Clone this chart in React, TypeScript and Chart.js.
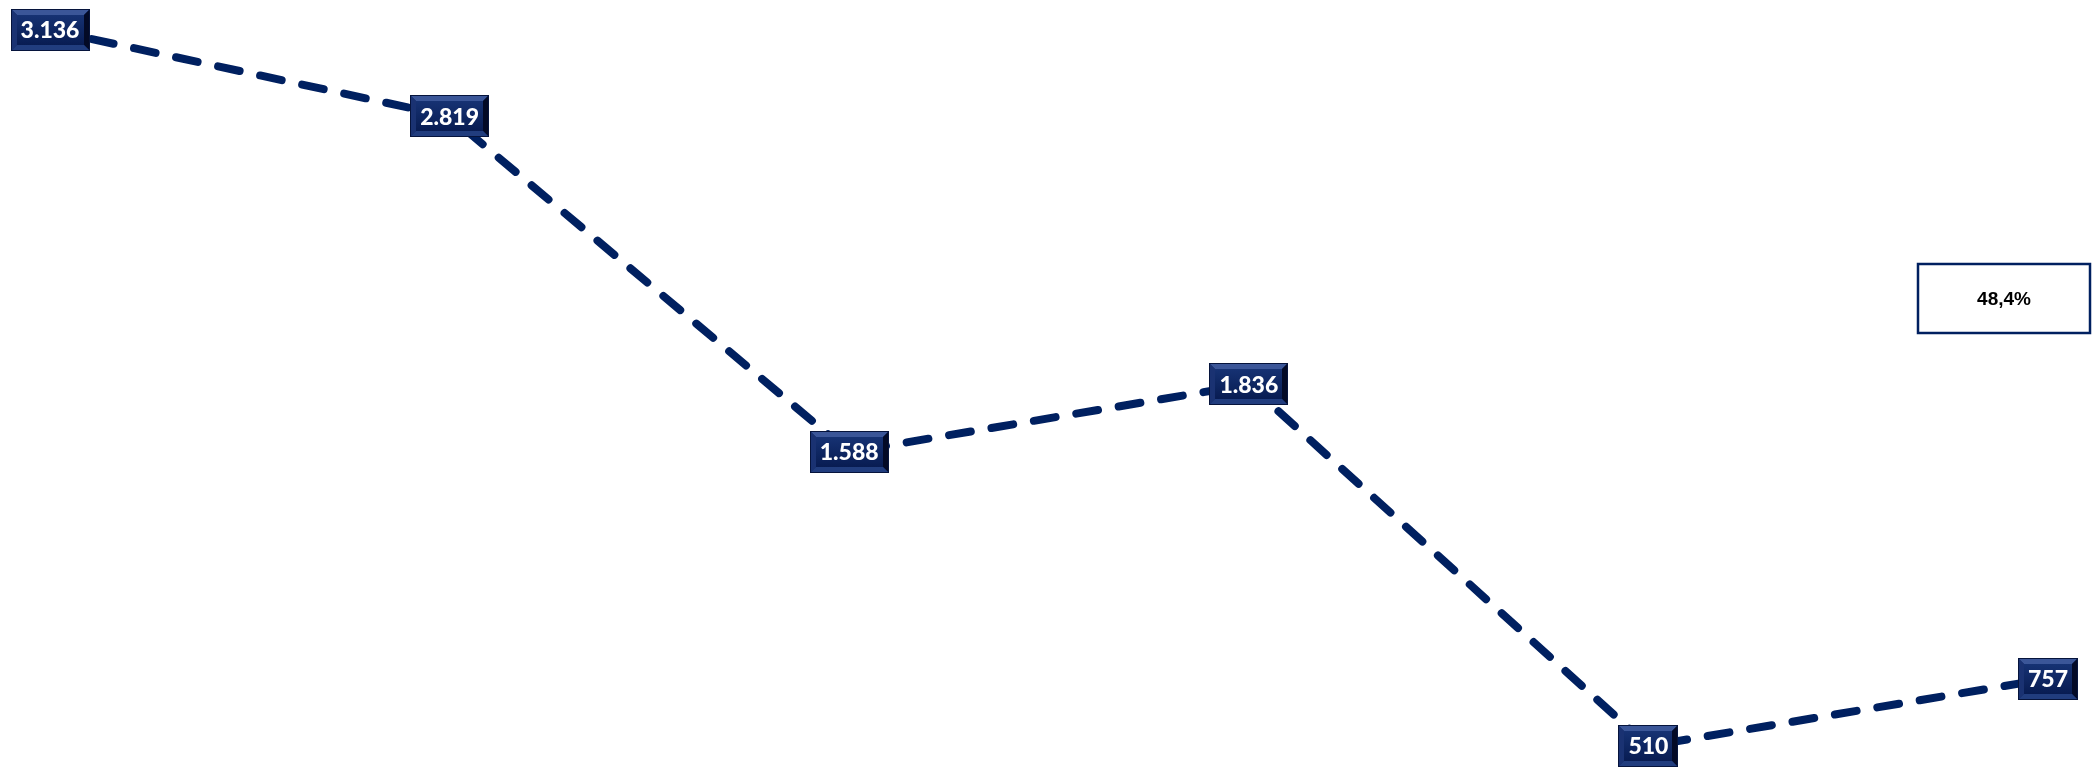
import React, { useEffect, useRef } from "react";
import { Chart, registerables } from "chart.js";

Chart.register(...registerables);

const categories = ["P1", "P2", "P3", "P4", "P5", "P6"];
const values = [3136, 2819, 1588, 1836, 510, 757];
const valueLabels = ["3.136", "2.819", "1.588", "1.836", "510", "757"];
const noteText = "48,4%";

const NAVY = "#002060";

function bevelBox(ctx: CanvasRenderingContext2D, cx: number, cy: number, w: number, h: number) {
  const x = Math.round(cx - w / 2);
  const y = Math.round(cy - h / 2);
  const b = 6;
  ctx.fillStyle = "#0c2260";
  ctx.fillRect(x, y, w, h);
  // top bevel
  ctx.beginPath();
  ctx.moveTo(x, y);
  ctx.lineTo(x + w, y);
  ctx.lineTo(x + w - b, y + b);
  ctx.lineTo(x + b, y + b);
  ctx.closePath();
  ctx.fillStyle = "#3b5698";
  ctx.fill();
  // left bevel
  ctx.beginPath();
  ctx.moveTo(x, y);
  ctx.lineTo(x + b, y + b);
  ctx.lineTo(x + b, y + h - b);
  ctx.lineTo(x, y + h);
  ctx.closePath();
  ctx.fillStyle = "#1a3272";
  ctx.fill();
  // right bevel
  ctx.beginPath();
  ctx.moveTo(x + w, y);
  ctx.lineTo(x + w, y + h);
  ctx.lineTo(x + w - b, y + h - b);
  ctx.lineTo(x + w - b, y + b);
  ctx.closePath();
  ctx.fillStyle = "#030a26";
  ctx.fill();
  // bottom bevel
  ctx.beginPath();
  ctx.moveTo(x, y + h);
  ctx.lineTo(x + w, y + h);
  ctx.lineTo(x + w - b, y + h - b);
  ctx.lineTo(x + b, y + h - b);
  ctx.closePath();
  ctx.fillStyle = "#213d7e";
  ctx.fill();
  // inner face
  const g = ctx.createLinearGradient(0, y + b, 0, y + h - b);
  g.addColorStop(0, "#163273");
  g.addColorStop(1, "#081c52");
  ctx.fillStyle = g;
  ctx.fillRect(x + b, y + b, w - 2 * b, h - 2 * b);
  ctx.strokeStyle = "#06143c";
  ctx.lineWidth = 1;
  ctx.strokeRect(x + 0.5, y + 0.5, w - 1, h - 1);
}

const labelPlugin = {
  id: "valueBoxes",
  afterDatasetsDraw(chart: any) {
    const ctx: CanvasRenderingContext2D = chart.ctx;
    const meta = chart.getDatasetMeta(0);
    ctx.save();
    ctx.font = "900 23px Lato, 'DejaVu Sans', sans-serif";
    meta.data.forEach((pt: any, i: number) => {
      const text = valueLabels[i];
      const tw = ctx.measureText(text).width;
      const w = Math.round(tw + 20);
      const h = 42;
      bevelBox(ctx, pt.x, pt.y, w, h);
      ctx.fillStyle = "#ffffff";
      ctx.textAlign = "center";
      ctx.textBaseline = "middle";
      ctx.fillText(text, pt.x, pt.y + 1);
    });
    // note box
    const bx = 1918, by = 264, bw = 172, bh = 69;
    ctx.fillStyle = "#ffffff";
    ctx.fillRect(bx, by, bw, bh);
    ctx.strokeStyle = NAVY;
    ctx.lineWidth = 2.5;
    ctx.strokeRect(bx, by, bw, bh);
    ctx.fillStyle = "#000000";
    ctx.font = "bold 19px 'Liberation Sans', Arial, sans-serif";
    ctx.textAlign = "center";
    ctx.textBaseline = "middle";
    ctx.fillText(noteText, bx + bw / 2, by + bh / 2 + 1);
    ctx.restore();
  },
};

export default function App() {
  const ref = useRef<HTMLCanvasElement | null>(null);
  useEffect(() => {
    if (!ref.current) return;
    const chart = new Chart(ref.current, {
      type: "line",
      data: {
        labels: categories,
        datasets: [
          {
            data: values,
            borderColor: NAVY,
            borderWidth: 8,
            borderDash: [22, 21],
            borderCapStyle: "round",
            borderJoinStyle: "round",
            pointRadius: 0,
            tension: 0,
            fill: false,
          },
        ],
      },
      options: {
        animation: false,
        responsive: true,
        maintainAspectRatio: false,
        layout: { padding: { left: 50, right: 44, top: 30, bottom: 23 } },
        plugins: { legend: { display: false }, tooltip: { enabled: false } },
        scales: {
          x: { display: false, offset: false },
          y: { display: false, min: Math.min(...values), max: Math.max(...values) },
        },
      },
      plugins: [labelPlugin],
    });
    return () => chart.destroy();
  }, []);
  return (
    <div style={{ position: "fixed", left: 0, top: 0, width: 2092, height: 769, background: "#fff" }}>
      <canvas ref={ref} />
    </div>
  );
}
